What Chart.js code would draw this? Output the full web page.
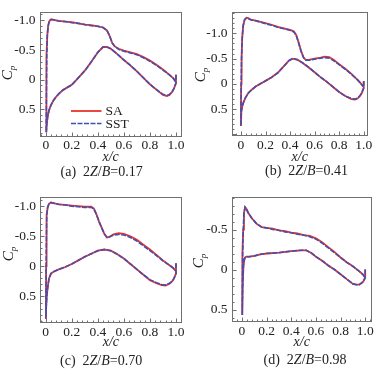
<!DOCTYPE html>
<html><head><meta charset="utf-8">
<script src="https://cdn.jsdelivr.net/npm/chart.js@4.4.1/dist/chart.umd.min.js"></script>
<style>
html,body{margin:0;padding:0;background:#fff;}
body{width:383px;height:369px;position:relative;overflow:hidden;font-family:"Liberation Serif","Times New Roman",serif;color:#222;}
canvas{position:absolute;}
.cap{position:absolute;font-size:14px;line-height:14px;white-space:nowrap;}
.cp{position:absolute;width:0;height:0;}
.cp span{position:absolute;left:0;top:0;transform:translate(-50%,-50%) rotate(-90deg);font-size:15px;font-style:italic;white-space:nowrap;line-height:15px;}
.cp sub{font-size:9px;vertical-align:-3px;}
</style></head><body>
<canvas id="ca"></canvas>
<canvas id="cb"></canvas>
<canvas id="cc"></canvas>
<canvas id="cd"></canvas>
<div class="cp" style="left:9.5px;top:73px"><span>C<sub>p</sub></span></div>
<div class="cp" style="left:203px;top:75px"><span>C<sub>p</sub></span></div>
<div class="cp" style="left:11px;top:254px"><span>C<sub>p</sub></span></div>
<div class="cp" style="left:201px;top:261px"><span>C<sub>p</sub></span></div>
<div class="cap" style="left:60.5px;top:165px">(a)&nbsp; 2<i>Z</i>/<i>B</i>=0.17</div>
<div class="cap" style="left:265px;top:164px">(b)&nbsp; 2<i>Z</i>/<i>B</i>=0.41</div>
<div class="cap" style="left:60px;top:354px">(c)&nbsp; 2<i>Z</i>/<i>B</i>=0.70</div>
<div class="cap" style="left:263.5px;top:353px">(d)&nbsp; 2<i>Z</i>/<i>B</i>=0.98</div>
<script>
// ---- data ----
const seriesNames = ['SA', 'SST'];
const xTicks = [0, 0.2, 0.4, 0.6, 0.8, 1.0];
const yTicksA = [-1.0, -0.5, 0, 0.5];
const yTicksB = [-1.0, -0.5, 0, 0.5];
const yTicksC = [-1.0, -0.5, 0, 0.5];
const yTicksD = [-0.5, 0, 0.5];
const captions = ['(a) 2Z/B=0.17', '(b) 2Z/B=0.41', '(c) 2Z/B=0.70', '(d) 2Z/B=0.98'];

// Panel (a): loop from trailing edge along lower surface to LE, then upper surface to TE
const aX = [1.0,1.0,0.985,0.97,0.95,0.93,0.9,0.85,0.8,0.75,0.7,0.65,0.6,0.55,0.5,0.47,0.44,0.4,0.35,0.3,0.25,0.2,0.16,0.13,0.1,0.08,0.06,0.04,0.025,0.015,0.008,0.003,
  0.004,0.005,0.006,0.008,0.012,0.018,0.025,0.035,0.045,0.06,0.1,0.15,0.2,0.25,0.3,0.35,0.4,0.44,0.47,0.49,0.51,0.53,0.56,0.6,0.65,0.7,0.75,0.8,0.85,0.9,0.95,0.98,0.995];
const aSA = [-0.08,0.06,0.15,0.21,0.26,0.28,0.26,0.17,0.08,-0.03,-0.14,-0.24,-0.33,-0.43,-0.52,-0.55,-0.55,-0.46,-0.3,-0.15,-0.03,0.09,0.14,0.18,0.24,0.29,0.35,0.43,0.52,0.62,0.75,0.89,
  0.6,0.3,0.0,-0.4,-0.75,-0.9,-0.97,-1.01,-1.02,-1.01,-0.99,-0.98,-0.97,-0.95,-0.93,-0.92,-0.9,-0.88,-0.83,-0.74,-0.62,-0.56,-0.52,-0.49,-0.46,-0.43,-0.38,-0.32,-0.25,-0.17,-0.08,-0.02,0.03];
const aSST = [-0.08,0.06,0.15,0.21,0.25,0.27,0.25,0.17,0.08,-0.03,-0.14,-0.24,-0.33,-0.43,-0.52,-0.55,-0.55,-0.46,-0.3,-0.15,-0.03,0.09,0.14,0.18,0.24,0.29,0.35,0.43,0.52,0.62,0.75,0.89,
  0.6,0.3,0.0,-0.4,-0.75,-0.9,-0.97,-1.0,-1.01,-1.01,-0.99,-0.98,-0.96,-0.95,-0.93,-0.91,-0.9,-0.88,-0.83,-0.74,-0.62,-0.56,-0.51,-0.48,-0.45,-0.42,-0.37,-0.31,-0.24,-0.16,-0.08,-0.02,0.03];

// Panel (b)
const bX = [1.0,1.0,0.985,0.97,0.95,0.93,0.9,0.85,0.8,0.75,0.7,0.65,0.6,0.55,0.5,0.46,0.42,0.39,0.35,0.3,0.25,0.2,0.155,0.12,0.09,0.06,0.035,0.02,0.01,0.003,0.0,
  0.0,0.002,0.005,0.01,0.018,0.03,0.045,0.06,0.08,0.12,0.2,0.25,0.3,0.35,0.4,0.43,0.45,0.47,0.49,0.51,0.53,0.56,0.6,0.65,0.68,0.72,0.76,0.8,0.85,0.9,0.95,0.98,0.995];
const bSA = [-0.06,0.08,0.18,0.24,0.29,0.31,0.3,0.24,0.16,0.06,-0.04,-0.13,-0.23,-0.33,-0.42,-0.48,-0.5,-0.46,-0.35,-0.22,-0.13,-0.06,0.0,0.05,0.11,0.18,0.28,0.37,0.45,0.55,0.83,
  0.5,0.0,-0.5,-0.9,-1.15,-1.27,-1.31,-1.3,-1.27,-1.25,-1.2,-1.17,-1.13,-1.1,-1.07,-1.04,-0.97,-0.82,-0.65,-0.52,-0.47,-0.48,-0.5,-0.52,-0.54,-0.53,-0.47,-0.39,-0.3,-0.2,-0.08,0.0,0.05];
const bSST = [-0.06,0.08,0.17,0.23,0.28,0.3,0.29,0.24,0.16,0.06,-0.04,-0.13,-0.23,-0.33,-0.42,-0.48,-0.5,-0.46,-0.35,-0.22,-0.13,-0.06,0.0,0.05,0.11,0.18,0.28,0.37,0.45,0.55,0.83,
  0.5,0.0,-0.5,-0.9,-1.15,-1.27,-1.3,-1.29,-1.27,-1.25,-1.19,-1.16,-1.12,-1.09,-1.06,-1.03,-0.96,-0.81,-0.64,-0.52,-0.47,-0.47,-0.49,-0.51,-0.52,-0.51,-0.45,-0.38,-0.29,-0.19,-0.08,0.0,0.05];

// Panel (c)
const cX = [1.0,1.0,0.985,0.97,0.95,0.92,0.89,0.85,0.8,0.75,0.7,0.65,0.6,0.55,0.5,0.45,0.4,0.35,0.3,0.25,0.2,0.15,0.1,0.06,0.04,0.025,0.015,0.008,0.003,0.001,
  0.002,0.003,0.005,0.008,0.015,0.025,0.04,0.06,0.1,0.15,0.2,0.25,0.3,0.35,0.37,0.39,0.41,0.43,0.45,0.47,0.49,0.52,0.56,0.6,0.65,0.7,0.75,0.8,0.85,0.9,0.95,0.98,0.995];
const cSA = [-0.05,0.12,0.2,0.25,0.29,0.32,0.31,0.28,0.23,0.14,0.05,-0.04,-0.13,-0.2,-0.26,-0.28,-0.26,-0.21,-0.16,-0.1,-0.04,0.01,0.05,0.09,0.12,0.2,0.35,0.5,0.7,0.86,
  0.5,0.0,-0.5,-0.85,-0.98,-1.04,-1.06,-1.05,-1.03,-1.02,-1.01,-1.0,-0.99,-0.99,-0.96,-0.86,-0.74,-0.64,-0.54,-0.48,-0.49,-0.53,-0.55,-0.54,-0.5,-0.44,-0.36,-0.28,-0.19,-0.1,-0.02,0.03,0.07];
const cSST = [-0.05,0.12,0.2,0.25,0.28,0.31,0.3,0.27,0.22,0.14,0.05,-0.04,-0.13,-0.2,-0.26,-0.28,-0.26,-0.21,-0.16,-0.1,-0.04,0.01,0.05,0.09,0.12,0.2,0.35,0.5,0.7,0.86,
  0.5,0.0,-0.5,-0.85,-0.98,-1.04,-1.06,-1.05,-1.03,-1.02,-1.0,-0.99,-0.98,-0.98,-0.95,-0.86,-0.74,-0.64,-0.54,-0.48,-0.49,-0.52,-0.53,-0.52,-0.48,-0.42,-0.34,-0.26,-0.18,-0.09,-0.02,0.03,0.07];

// Panel (d)
const dX = [1.0,1.0,0.985,0.97,0.95,0.93,0.9,0.85,0.8,0.75,0.7,0.65,0.6,0.56,0.52,0.48,0.4,0.3,0.2,0.15,0.1,0.06,0.035,0.025,0.02,0.012,0.006,0.003,0.001,
  0.003,0.006,0.01,0.016,0.025,0.035,0.05,0.08,0.12,0.16,0.2,0.25,0.3,0.35,0.4,0.45,0.5,0.55,0.6,0.65,0.7,0.75,0.8,0.85,0.9,0.95,0.98,0.995];
const dSA = [0.0,0.1,0.15,0.17,0.19,0.19,0.18,0.12,0.06,0.0,-0.05,-0.11,-0.16,-0.21,-0.24,-0.24,-0.23,-0.21,-0.2,-0.19,-0.17,-0.16,-0.16,-0.15,-0.13,-0.05,0.2,0.4,0.57,
  0.2,-0.2,-0.5,-0.7,-0.78,-0.76,-0.71,-0.64,-0.57,-0.53,-0.52,-0.51,-0.49,-0.48,-0.46,-0.45,-0.43,-0.42,-0.39,-0.34,-0.28,-0.22,-0.15,-0.09,-0.04,0.02,0.06,0.09];
const dSST = [0.0,0.1,0.15,0.17,0.19,0.19,0.18,0.12,0.06,0.0,-0.05,-0.11,-0.16,-0.21,-0.24,-0.24,-0.23,-0.21,-0.2,-0.19,-0.17,-0.16,-0.16,-0.15,-0.13,-0.05,0.2,0.4,0.57,
  0.2,-0.2,-0.5,-0.7,-0.78,-0.76,-0.71,-0.64,-0.57,-0.53,-0.52,-0.5,-0.49,-0.47,-0.46,-0.44,-0.43,-0.41,-0.38,-0.33,-0.27,-0.21,-0.15,-0.09,-0.04,0.02,0.06,0.09];

// ---- style ----
const FONT = '"Liberation Serif","Times New Roman",serif';
const RED = '#e8332c';
const BLUE = '#3f4fb4';
const AXIS = '#707070';
const TXT = '#222';

function fmt(v){ return Math.abs(v) < 1e-9 ? '0' : Number(v).toFixed(1); }

const deco = {
  id: 'deco',
  afterDraw(chart, args, opts) {
    const {ctx, chartArea: a, scales: {x, y}} = chart;
    ctx.save();
    ctx.strokeStyle = AXIS; ctx.lineWidth = 1;
    const L = Math.round(a.left) + 0.5, R = Math.round(a.right) - 0.5;
    const T = Math.round(a.top) + 0.5, B = Math.round(a.bottom) - 0.5;
    ctx.strokeRect(L, T, R - L, B - T);
    ctx.beginPath();
    for (let k = Math.ceil(x.min / 0.04 - 1e-9); k * 0.04 <= x.max + 1e-9; k++) {
      const v = k * 0.04;
      const px = Math.round(x.getPixelForValue(v)) + 0.5;
      const major = Math.abs(v / 0.2 - Math.round(v / 0.2)) < 1e-6;
      ctx.moveTo(px, B); ctx.lineTo(px, B - (major ? 4 : 2));
    }
    for (let k = Math.ceil(y.min / 0.1 - 1e-9); k * 0.1 <= y.max + 1e-9; k++) {
      const v = k * 0.1;
      const py = Math.round(y.getPixelForValue(v)) + 0.5;
      const major = Math.abs(v / 0.5 - Math.round(v / 0.5)) < 1e-6;
      ctx.moveTo(L, py); ctx.lineTo(L + (major ? 4 : 2), py);
    }
    ctx.stroke();
    if (opts && opts.legend) {
      const ds = chart.data.datasets;
      const rows = [[ds[0], 111], [ds[1], 123.5]];
      rows.forEach(([d, yy]) => {
        ctx.beginPath();
        ctx.strokeStyle = d.borderColor; ctx.lineWidth = d.borderWidth;
        ctx.setLineDash(d.borderDash || []);
        ctx.moveTo(71, yy); ctx.lineTo(101.5, yy); ctx.stroke();
        ctx.setLineDash([]);
        ctx.fillStyle = TXT; ctx.font = '13.5px ' + FONT;
        ctx.textBaseline = 'middle'; ctx.textAlign = 'left';
        ctx.fillText(d.label, 105.5, yy + 0.5);
      });
    }
    ctx.restore();
  }
};

const panels = [
  {id:'ca', cell:[0,0,192,185], plot:[39.5,7.3,181.7,136.7], xb:166, xr:[-0.048,1.044], yr:[-1.14,0.965], yt:yTicksA, x:aX, sa:aSA, sst:aSST, legend:true},
  {id:'cb', cell:[192,0,191,185], plot:[231.5,7,368,136], xb:166, xr:[-0.077,1.035], yr:[-1.42,1.03], yt:yTicksB, x:bX, sa:bSA, sst:bSST},
  {id:'cc', cell:[0,185,192,184], plot:[40,193.3,181.7,323.3], xb:351, xr:[-0.044,1.044], yr:[-1.15,0.945], yt:yTicksC, x:cX, sa:cSA, sst:cSST},
  {id:'cd', cell:[192,185,191,184], plot:[231.5,193.3,372,322.3], xb:351, xr:[-0.085,1.055], yr:[-0.905,0.66], yt:yTicksD, x:dX, sa:dSA, sst:dSST}
];

panels.forEach(p => {
  const [cl, ct, cw, ch] = p.cell;
  const [pl, pt, pr, pb] = p.plot;
  const cv = document.getElementById(p.id);
  cv.width = cw; cv.height = ch;
  cv.style.left = cl + 'px'; cv.style.top = ct + 'px';
  cv.style.width = cw + 'px'; cv.style.height = ch + 'px';
  new Chart(cv, {
    type: 'scatter',
    data: { datasets: [
      { label: seriesNames[0], data: p.x.map((xv, i) => ({x: xv, y: p.sa[i]})), showLine: true,
        borderColor: RED, backgroundColor: RED, borderWidth: 1.8, pointRadius: 0, order: 2, fill: false },
      { label: seriesNames[1], data: p.x.map((xv, i) => ({x: xv, y: p.sst[i]})), showLine: true,
        borderColor: BLUE, backgroundColor: BLUE, borderWidth: 1.6, borderDash: [5, 1.5], pointRadius: 0, order: 1, fill: false }
    ]},
    options: {
      responsive: false, animation: false, devicePixelRatio: 1,
      layout: { padding: { left: 0, top: pt - ct, right: cl + cw - pr, bottom: ct + ch - p.xb } },
      plugins: { legend: { display: false }, tooltip: { enabled: false }, deco: { legend: !!p.legend } },
      scales: {
        x: { type: 'linear', min: p.xr[0], max: p.xr[1],
          grid: { display: false, drawTicks: false }, border: { display: false },
          afterBuildTicks: s => { s.ticks = xTicks.map(v => ({value: v})); },
          afterFit: s => { s.height = p.xb - pb; },
          ticks: { callback: v => fmt(v), font: { family: FONT, size: 13.5 }, color: TXT, padding: 1, maxRotation: 0, autoSkip: false },
          title: { display: true, text: 'x/c', font: { family: FONT, size: 14, style: 'italic' }, color: TXT, padding: 0 } },
        y: { type: 'linear', reverse: true, min: p.yr[0], max: p.yr[1],
          grid: { display: false, drawTicks: false }, border: { display: false },
          afterBuildTicks: s => { s.ticks = p.yt.map(v => ({value: v})); },
          afterFit: s => { s.width = pl - cl; },
          ticks: { callback: v => fmt(v), font: { family: FONT, size: 13.5 }, color: TXT, padding: 4, autoSkip: false } }
      }
    },
    plugins: [deco]
  });
});
</script>
</body></html>
